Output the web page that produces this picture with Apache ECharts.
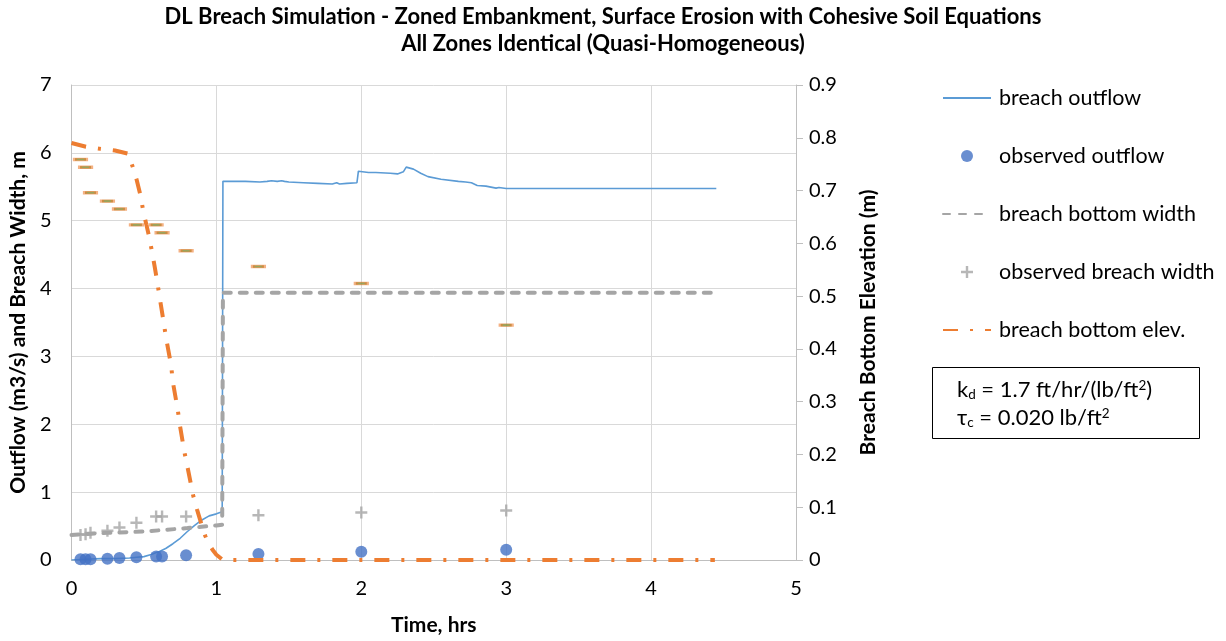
<!DOCTYPE html>
<html>
<head>
<meta charset="utf-8">
<script src="https://cdn.jsdelivr.net/npm/echarts@6/dist/echarts.min.js"></script>
<style>
html,body{margin:0;padding:0;background:#fff;}
#c{width:1226px;height:641px;}
</style>
</head>
<body>
<div id="c"></div>
<script>
// ---- data ----
var outflowTime = [0, 0.1, 0.2, 0.3, 0.4, 0.45, 0.5, 0.55, 0.6, 0.65, 0.7, 0.75, 0.8, 0.85, 0.9, 0.95, 1.0, 1.04, 1.045, 1.1, 1.2, 1.3, 1.35, 1.38, 1.42, 1.45, 1.47, 1.5, 1.6, 1.7, 1.8, 1.83, 1.85, 1.9, 1.97, 1.98, 2.05, 2.1, 2.2, 2.25, 2.26, 2.29, 2.31, 2.36, 2.41, 2.46, 2.55, 2.67, 2.68, 2.72, 2.76, 2.8, 2.86, 2.93, 2.95, 3.0, 3.5, 4.0, 4.45];
var outflowVals = [0.00, 0.01, 0.02, 0.02, 0.03, 0.04, 0.05, 0.08, 0.12, 0.17, 0.24, 0.32, 0.42, 0.51, 0.59, 0.65, 0.68, 0.71, 5.58, 5.58, 5.58, 5.57, 5.58, 5.59, 5.58, 5.59, 5.58, 5.57, 5.56, 5.55, 5.54, 5.56, 5.54, 5.55, 5.56, 5.73, 5.71, 5.71, 5.70, 5.69, 5.70, 5.72, 5.79, 5.76, 5.70, 5.65, 5.61, 5.58, 5.59, 5.57, 5.56, 5.52, 5.51, 5.48, 5.49, 5.475, 5.475, 5.475, 5.475];

var obsTime = [0.062, 0.097, 0.131, 0.248, 0.331, 0.448, 0.584, 0.625, 0.791, 1.29, 2.0, 3.0];
var obsOutflow = [0.01, 0.01, 0.01, 0.02, 0.03, 0.04, 0.05, 0.05, 0.07, 0.09, 0.12, 0.15];
var obsWidth = [0.37, 0.38, 0.40, 0.43, 0.48, 0.55, 0.64, 0.64, 0.64, 0.66, 0.70, 0.73];
var obsElev = [0.759, 0.744, 0.696, 0.680, 0.665, 0.635, 0.635, 0.620, 0.586, 0.556, 0.524, 0.445];

var widthTime = [0, 0.25, 0.5, 0.8, 1.0, 1.04, 1.045, 4.42];
var widthVals = [0.37, 0.40, 0.42, 0.47, 0.51, 0.52, 3.94, 3.94];

var elevTime = [0, 0.1, 0.2, 0.3, 0.39, 0.425, 0.45, 0.476, 0.494, 0.517, 0.538, 0.557, 0.574, 0.59, 0.607, 0.637, 0.653, 0.688, 0.699, 0.733, 0.747, 0.779, 0.80, 0.839, 0.867, 0.90, 0.924, 0.95, 0.972, 1.0, 1.045, 4.44];
var elevVals = [0.79, 0.783, 0.779, 0.776, 0.770, 0.743, 0.72, 0.691, 0.663, 0.635, 0.61, 0.582, 0.556, 0.53, 0.50, 0.449, 0.42, 0.368, 0.338, 0.285, 0.257, 0.205, 0.177, 0.123, 0.095, 0.065, 0.045, 0.03, 0.02, 0.01, 0, 0];

var xTicks = [0, 1, 2, 3, 4, 5];
var leftTicks = [0, 1, 2, 3, 4, 5, 6, 7];
var rightTicks = [0, 0.1, 0.2, 0.3, 0.4, 0.5, 0.6, 0.7, 0.8, 0.9];

var seriesNames = ['breach outflow', 'observed outflow', 'breach bottom width', 'observed breach width', 'breach bottom elev.'];

function pairs(xs, ys) { return xs.map(function (x, i) { return [x, ys[i]]; }); }

var FONT = 'Lato, "Liberation Sans", sans-serif';
var plusPath = 'path://M-1.2,-6 H1.2 V-1.2 H6 V1.2 H1.2 V6 H-1.2 V1.2 H-6 V-1.2 H-1.2 Z';

var chart = echarts.init(document.getElementById('c'), null, {renderer: 'canvas'});
chart.setOption({
  animation: false,
  backgroundColor: '#fff',
  textStyle: {fontFamily: FONT},
  title: {
    text: 'DL Breach Simulation - Zoned Embankment, Surface Erosion with Cohesive Soil Equations\nAll Zones Identical (Quasi-Homogeneous)',
    left: 603, top: 3, padding: 0, textAlign: 'center',
    textStyle: {fontFamily: FONT, fontSize: 22, fontWeight: 'bold', color: '#000', lineHeight: 27}
  },
  grid: {left: 71, right: 430, top: 85, bottom: 77},
  legend: {
    orient: 'vertical', left: 942, top: 86, padding: 0,
    itemWidth: 48, itemHeight: 12, itemGap: 34,
    data: [
      {name: seriesNames[0], itemStyle: {opacity: 0}},
      {name: seriesNames[1]},
      {name: seriesNames[2], itemStyle: {opacity: 0}},
      {name: seriesNames[3]},
      {name: seriesNames[4], itemStyle: {opacity: 0}}
    ],
    textStyle: {fontFamily: FONT, fontSize: 21.5, color: '#000', lineHeight: 24, padding: [0, 0, 0, 3]}
  },
  xAxis: {
    type: 'value', min: 0, max: 5, interval: 1,
    axisLine: {show: true, lineStyle: {color: '#BFBFBF', width: 1}},
    axisTick: {show: false},
    splitLine: {show: true, lineStyle: {color: '#D9D9D9', width: 1}},
    axisLabel: {fontFamily: FONT, fontSize: 20, color: '#000', margin: 19,
      formatter: function (v) { return xTicks.indexOf(v) >= 0 ? String(v) : ''; }},
    name: 'Time, hrs', nameLocation: 'middle', nameGap: 55,
    nameTextStyle: {fontFamily: FONT, fontSize: 21, fontWeight: 'bold', color: '#000'}
  },
  yAxis: [{
    type: 'value', min: 0, max: 7, interval: 1, position: 'left',
    axisLine: {show: true, lineStyle: {color: '#BFBFBF', width: 1}},
    axisTick: {show: false},
    splitLine: {show: true, lineStyle: {color: '#D9D9D9', width: 1}},
    axisLabel: {fontFamily: FONT, fontSize: 20, color: '#000', margin: 20,
      formatter: function (v) { return leftTicks.indexOf(v) >= 0 ? String(v) : ''; }},
    name: 'Outflow (m3/s) and Breach Width, m', nameLocation: 'middle', nameRotate: 90, nameGap: 42,
    nameTextStyle: {fontFamily: FONT, fontSize: 21, fontWeight: 'bold', color: '#000'}
  }, {
    type: 'value', min: 0, max: 0.9, interval: 0.1, position: 'right',
    axisLine: {show: true, lineStyle: {color: '#BFBFBF', width: 1}},
    axisTick: {show: true, length: 7, lineStyle: {color: '#BFBFBF'}},
    splitLine: {show: false},
    axisLabel: {fontFamily: FONT, fontSize: 20, color: '#000', margin: 13,
      formatter: function (v) {
        var r = Math.round(v * 10) / 10;
        for (var i = 0; i < rightTicks.length; i++) { if (Math.abs(rightTicks[i] - r) < 1e-9) return r === 0 ? '0' : r.toFixed(1); }
        return '';
      }},
    name: 'Breach Bottom Elevation (m)', nameLocation: 'middle', nameRotate: 90, nameGap: 62,
    nameTextStyle: {fontFamily: FONT, fontSize: 21, fontWeight: 'bold', color: '#000'}
  }],
  series: [{
    name: seriesNames[0], type: 'line', data: pairs(outflowTime, outflowVals),
    symbol: 'none', color: '#5B9BD5', lineStyle: {color: '#5B9BD5', width: 1.6}, z: 2
  }, {
    name: seriesNames[1], type: 'scatter', data: pairs(obsTime, obsOutflow),
    symbol: 'circle', symbolSize: 12, itemStyle: {color: '#4472C4'}, z: 3
  }, {
    name: seriesNames[2], type: 'line', data: pairs(widthTime, widthVals),
    symbol: 'none', color: '#A5A5A5', lineStyle: {color: '#A5A5A5', width: 4, type: [7, 9], cap: 'round'}, z: 4
  }, {
    name: seriesNames[3], type: 'scatter', data: pairs(obsTime, obsWidth),
    symbol: plusPath, symbolSize: 12, itemStyle: {color: '#A5A5A5'}, z: 5
  }, {
    name: seriesNames[4], type: 'line', yAxisIndex: 1, data: pairs(elevTime, elevVals),
    symbol: 'none', color: '#ED7D31', lineStyle: {color: '#ED7D31', width: 4, type: [15, 12, 3, 12]}, z: 6
  }, {
    name: 'observed breach bottom elev.', type: 'scatter', yAxisIndex: 1, data: pairs(obsTime, obsElev),
    symbol: 'rect', symbolSize: [11, 2.5], itemStyle: {color: '#7F8F36', borderColor: 'rgba(237,125,49,0.75)', borderWidth: 2}, z: 7
  }],
  graphic: [{
    type: 'rect', left: 932, top: 367,
    shape: {width: 267, height: 71},
    style: {fill: '#fff', stroke: '#000', lineWidth: 1}
  }, {
    type: 'text', left: 957, top: 376,
    style: {
      text: '{a|k}{sub|d}{a| = 1.7 ft/hr/(lb/ft}{sup|2}{a|)}\n{a|τ}{sub|c}{a| = 0.020 lb/ft}{sup|2}',
      rich: {
        a: {fontFamily: FONT, fontSize: 22, color: '#000', lineHeight: 28},
        sub: {fontFamily: FONT, fontSize: 13.5, color: '#000', lineHeight: 14, verticalAlign: 'bottom', padding: [0, 0, 2, 0]},
        sup: {fontFamily: FONT, fontSize: 13.5, color: '#000', lineHeight: 14, verticalAlign: 'top', padding: [3, 0, 0, 0]}
      }
    }
  }]
});
</script>
</body>
</html>
